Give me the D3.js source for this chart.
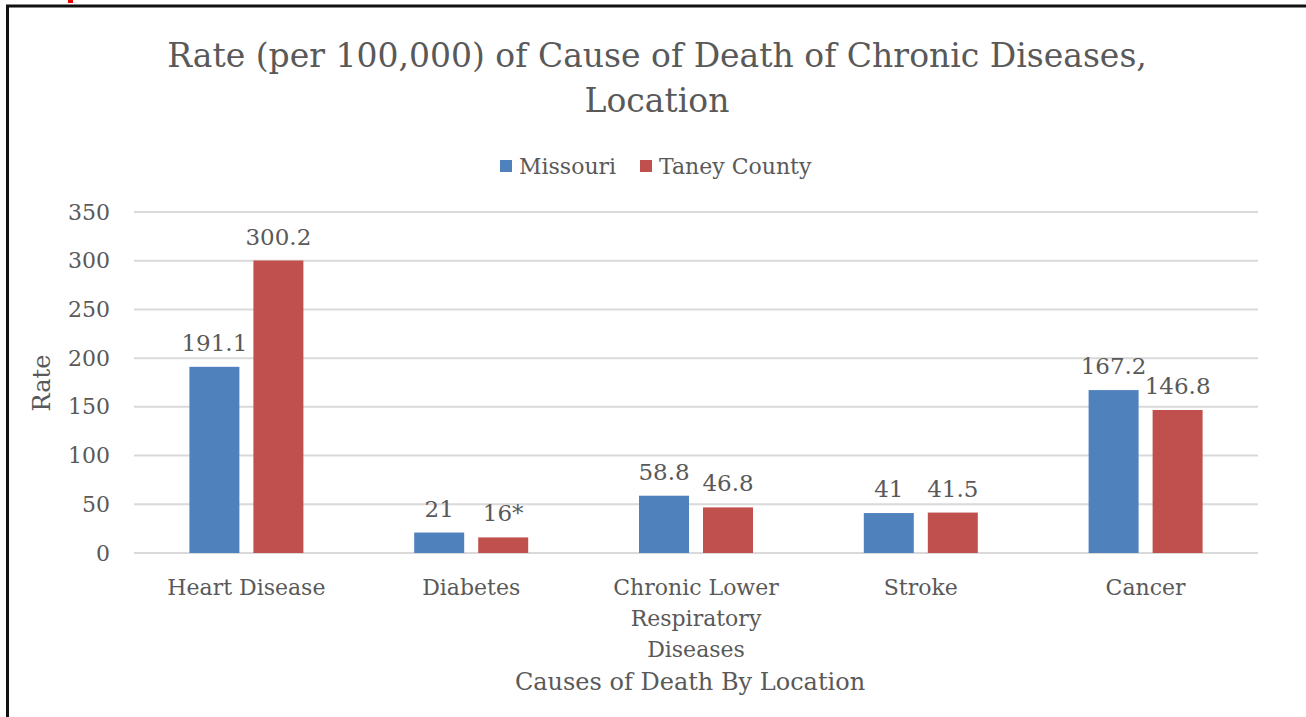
<!DOCTYPE html>
<html>
	<head>
		<meta charset="utf-8">
		<script type="text/javascript" src="https://cdn.jsdelivr.net/npm/d3@7"></script>
		<style>
			body { margin: 0; background: #fff; }
			text { font-family: "DejaVu Serif", serif; fill: #595959; }
		</style>
	</head>
	<body>
		<svg id="viz"></svg>
		<script>
			// Chart values
			var categories = ["Heart Disease", "Diabetes", "Chronic Lower Respiratory Diseases", "Stroke", "Cancer"];
			var series = ["Missouri", "Taney County"];
			var missouri = [191.1, 21, 58.8, 41, 167.2];
			var taney = [300.2, 16, 46.8, 41.5, 146.8];
			var taneyLabels = ["300.2", "16*", "46.8", "41.5", "146.8"];
			var yTicks = [0, 50, 100, 150, 200, 250, 300, 350];
			var colors = ["#4f81bd", "#c0504d"];

			var width = 1306, height = 717;
			// plot box (note: "top" is taken by window.top, so prefix these)
			var plotLeft = 134, plotRight = 1258, plotTop = 212, plotBottom = 553;

			var svg = d3.select("#viz").attr("width", width).attr("height", height);

			// frame around the chart (left + top only show in the picture)
			svg.append("path")
				.attr("d", "M7.5,717 L7.5,6 L1306,6")
				.attr("fill", "none")
				.attr("stroke", "#111")
				.attr("stroke-width", 3);
			svg.append("rect").attr("x", 68).attr("y", 0).attr("width", 5).attr("height", 3).attr("fill", "#e00");

			var x0 = d3.scaleBand().domain(categories).range([plotLeft, plotRight]);
			var y = d3.scaleLinear().domain([0, 350]).range([plotBottom, plotTop]);

			// gridlines
			svg.append("g").selectAll("line")
				.data(yTicks)
				.enter()
				.append("line")
				.attr("x1", plotLeft).attr("x2", plotRight)
				.attr("y1", function(d) { return y(d); })
				.attr("y2", function(d) { return y(d); })
				.attr("stroke", "#d9d9d9")
				.attr("stroke-width", 2);

			// y axis labels
			var yAxis = d3.axisLeft(y).tickValues(yTicks).tickSize(0).tickPadding(0);
			var yg = svg.append("g").attr("transform", "translate(110,0)").call(yAxis);
			yg.select(".domain").remove();
			yg.selectAll("text")
				.attr("font-size", 22)
				.attr("font-family", "DejaVu Serif")
				.attr("fill", "#595959");

			// bars
			var rows = categories.map(function(c, i) {
				return { cat: c, values: [
					{ s: series[0], v: missouri[i], label: String(missouri[i]) },
					{ s: series[1], v: taney[i], label: taneyLabels[i] }
				] };
			});

			var groups = svg.append("g").selectAll("g")
				.data(rows)
				.enter()
				.append("g")
				.attr("transform", function(d) { return "translate(" + x0(d.cat) + ",0)"; });

			var bw = x0.bandwidth();
			var x1 = d3.scaleBand().domain(series).range([bw / 2 - 57, bw / 2 + 57]).paddingInner(0.219);

			groups.selectAll("rect")
				.data(function(d) { return d.values; })
				.enter()
				.append("rect")
				.attr("x", function(d) { return x1(d.s); })
				.attr("width", x1.bandwidth())
				.attr("y", function(d) { return y(d.v); })
				.attr("height", function(d) { return y(0) - y(d.v); })
				.attr("fill", function(d, i) { return colors[i]; });

			groups.selectAll("text.lbl")
				.data(function(d) { return d.values; })
				.enter()
				.append("text")
				.attr("class", "lbl")
				.attr("x", function(d) { return x1(d.s) + x1.bandwidth() / 2; })
				.attr("y", function(d) { return y(d.v) - 16; })
				.attr("text-anchor", "middle")
				.attr("font-size", 23)
				.text(function(d) { return d.label; });

			// category labels, wrapped like the original
			var wrapped = {
				"Chronic Lower Respiratory Diseases": ["Chronic Lower", "Respiratory", "Diseases"]
			};
			var xl = svg.append("g").selectAll("text")
				.data(categories)
				.enter()
				.append("text")
				.attr("x", function(d) { return x0(d) + bw / 2; })
				.attr("y", 595)
				.attr("text-anchor", "middle")
				.attr("font-size", 22);
			xl.each(function(d) {
				var lines = wrapped[d] || [d];
				var t = d3.select(this);
				lines.forEach(function(line, i) {
					t.append("tspan")
						.attr("x", x0(d) + bw / 2)
						.attr("dy", i === 0 ? 0 : 31)
						.text(line);
				});
			});

			// axis titles
			svg.append("text")
				.attr("x", 690).attr("y", 690)
				.attr("text-anchor", "middle")
				.attr("font-size", 24)
				.text("Causes of Death By Location");

			svg.append("text")
				.attr("transform", "translate(50,383) rotate(-90)")
				.attr("text-anchor", "middle")
				.attr("font-size", 24)
				.text("Rate");

			// chart title
			svg.append("text")
				.attr("x", 657).attr("y", 67)
				.attr("text-anchor", "middle")
				.attr("font-size", 33)
				.text("Rate (per 100,000) of Cause of Death of Chronic Diseases,");
			svg.append("text")
				.attr("x", 657).attr("y", 112)
				.attr("text-anchor", "middle")
				.attr("font-size", 33)
				.text("Location");

			// legend
			var legend = svg.append("g").selectAll("g")
				.data(series)
				.enter()
				.append("g")
				.attr("transform", function(d, i) { return "translate(" + [500, 640][i] + ",0)"; });
			legend.append("rect")
				.attr("x", 0).attr("y", 160)
				.attr("width", 12).attr("height", 12)
				.attr("fill", function(d, i) { return colors[i]; });
			legend.append("text")
				.attr("x", 19).attr("y", 174)
				.attr("font-size", 22)
				.text(function(d) { return d; });
		</script>
	</body>
</html>
